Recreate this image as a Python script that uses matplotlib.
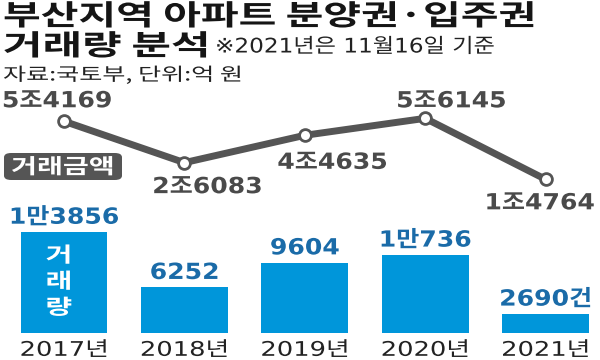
import matplotlib
matplotlib.use("Agg")
import matplotlib.pyplot as plt
from matplotlib.patches import FancyBboxPatch
from matplotlib.patheffects import AbstractPathEffect
from matplotlib.transforms import Affine2D

# ---------------- data ----------------
years = ["2017년", "2018년", "2019년", "2020년", "2021년"]
volume = [13856, 6252, 9604, 10736, 2690]          # 거래량 (건)
amount = [54169, 26083, 44635, 56145, 14764]       # 거래금액 (억 원)

title1 = "부산지역 아파트 분양권·입주권"
title2 = "거래량 분석"
note = "※2021년은 11월16일 기준"
source = "자료:국토부, 단위:억 원"
badge_text = "거래금액"
bar_text = "거\n래\n량"


def fmt_amount(v):
    return f"{v // 10000}조{v % 10000}"


def fmt_volume(v, last=False):
    s = f"{v // 10000}만{v % 10000}" if v >= 10000 else f"{v}"
    return s + ("건" if last else "")


# horizontally widened lettering (the reference face is wide)
class StretchX(AbstractPathEffect):
    def __init__(self, sx=1.2, align="center"):
        super().__init__()
        self.sx = sx
        self.align = align

    def draw_path(self, renderer, gc, tpath, affine, rgbFace=None):
        verts = affine.transform(tpath.vertices)
        if len(verts) == 0:
            return
        xmin, xmax = verts[:, 0].min(), verts[:, 0].max()
        a = xmin if self.align == "left" else 0.5 * (xmin + xmax)
        t = affine + Affine2D().translate(-a, 0).scale(self.sx, 1).translate(a, 0)
        renderer.draw_path(gc, tpath, t, rgbFace)


# ---------------- style ----------------
W, H = 600, 360
BAR_C = "#0096DA"
BAR_TXT = "#1A6BA8"
LINE_C = "#555555"
LINE_TXT = "#4A4A4A"
FAM = ["DejaVu Sans", "Noto Sans CJK KR"]
KR = ["Noto Sans CJK KR", "DejaVu Sans"]

fig = plt.figure(figsize=(6, 3.6), dpi=100)
fig.patch.set_facecolor("white")


def fx(px):
    return px / W


def fy(py):
    return 1 - py / H


# x mapping: category centres at pixel 64 + 120.4*i
x0, pitch = 64.0, 120.4
xlim = (-x0 / pitch, (W - x0) / pitch)

# bar axes: base at y=333.3px, 0.007333 px per unit
base_px, bar_scale = 333.3, 0.007333
bar_ylim = (-(H - base_px) / bar_scale, base_px / bar_scale)

# line axes: px = 201.1 - 0.001474 * v
l0_px, l_scale = 201.1, 0.001474
line_ylim = ((l0_px - H) / l_scale, l0_px / l_scale)

ax = fig.add_axes([0, 0, 1, 1])
ax.set_xlim(*xlim)
ax.set_ylim(*bar_ylim)
ax.axis("off")

xs = list(range(len(years)))
ax.bar(xs, volume, width=86.7 / pitch, color=BAR_C, zorder=2)

n = len(years)
for i, v in enumerate(volume):
    ax.annotate(fmt_volume(v, last=(i == n - 1)), (i, v), xytext=(0, 14.5 * 0.72),
                textcoords="offset points", ha="center", va="center",
                fontsize=16, fontweight="bold", color=BAR_TXT, family=FAM,
                path_effects=[StretchX(1.13)])
    ax.annotate(years[i], (i, 0), xytext=(0, -17 * 0.72),
                textcoords="offset points", ha="center", va="center",
                fontsize=14.5, color="#222222", family=FAM,
                path_effects=[StretchX(1.28)])

# vertical label inside first bar
ax.text(-0.045, volume[0] * 0.51, bar_text, ha="center", va="center",
        fontsize=15, fontweight="bold", color="white", family=KR,
        linespacing=1.3, zorder=3, path_effects=[StretchX(1.4)])

# line axes
ax2 = fig.add_axes([0, 0, 1, 1])
ax2.set_xlim(*xlim)
ax2.set_ylim(*line_ylim)
ax2.axis("off")
ax2.patch.set_alpha(0)
ax2.plot(xs, amount, color=LINE_C, lw=5, solid_capstyle="round", zorder=3,
         marker="o", markersize=8.5, markerfacecolor="white",
         markeredgecolor=LINE_C, markeredgewidth=2)

offsets = [(-7, -20), (23, 24.5), (27.5, 27.5), (26, -17), (-6, 24)]
for i, v in enumerate(amount):
    dx, dy = offsets[i]
    ax2.annotate(fmt_amount(v), (i, v), xytext=(dx * 0.72, -dy * 0.72),
                 textcoords="offset points", ha="center", va="center",
                 fontsize=16, fontweight="bold", color=LINE_TXT, family=FAM,
                 path_effects=[StretchX(1.13)])

# badge
badge = FancyBboxPatch((fx(4), fy(180)), fx(118), 27 / H,
                       boxstyle="round,pad=0,rounding_size=0.012",
                       transform=fig.transFigure, facecolor=LINE_C,
                       edgecolor="none", zorder=5)
fig.patches.append(badge)
fig.text(fx(62.5), fy(167), badge_text, ha="center", va="center", fontsize=15,
         fontweight="bold", color="white", family=KR, zorder=6,
         path_effects=[StretchX(1.35)])

# titles
fig.text(fx(3), fy(25), title1, ha="left", va="baseline", fontsize=20.5,
         fontweight="bold", color="#151515", family=KR,
         path_effects=[StretchX(1.44, "left")])
fig.text(fx(3), fy(55), title2, ha="left", va="baseline", fontsize=20.5,
         fontweight="bold", color="#151515", family=KR,
         path_effects=[StretchX(1.51, "left")])
fig.text(fx(215), fy(52.5), note, ha="left", va="baseline", fontsize=14.5,
         color="#222222", family=FAM, path_effects=[StretchX(1.15, "left")])
fig.text(fx(3), fy(80.5), source, ha="left", va="baseline", fontsize=13,
         color="#222222", family=KR, path_effects=[StretchX(1.39, "left")])

fig.savefig("out.png", dpi=100, facecolor="white")
